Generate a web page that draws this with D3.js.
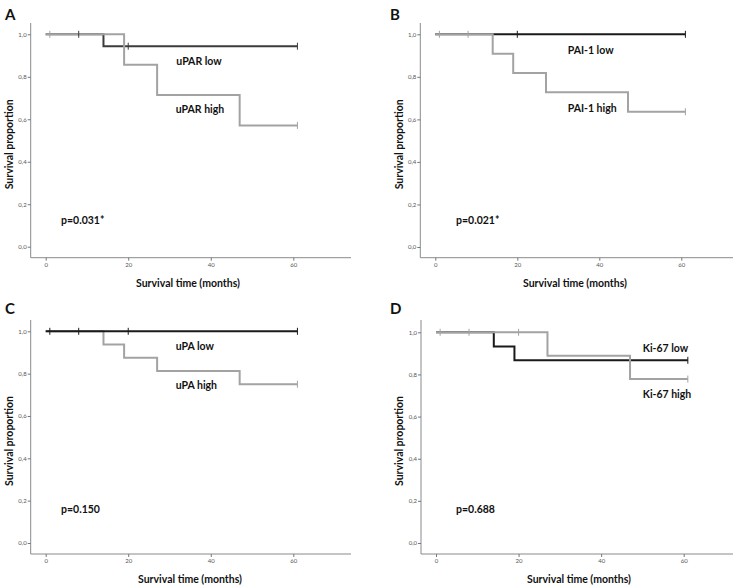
<!DOCTYPE html>
<html><head><meta charset="utf-8">
<script src="https://cdn.jsdelivr.net/npm/d3@7"></script>
<style>body{margin:0;background:#fff}svg{display:block}</style>
</head><body>
<svg id="chart" width="745" height="588"></svg>
<script>
// ---- data ----
const panelLetters = ["A", "B", "C", "D"];
const lowLabels = ["uPAR low", "PAI-1 low", "uPA low", "Ki-67 low"];
const highLabels = ["uPAR high", "PAI-1 high", "uPA high", "Ki-67 high"];
const pLabels = ["p=0.031*", "p=0.021*", "p=0.150", "p=0.688"];
const xTicks = [0, 20, 40, 60];
const yTicks = [0, 0.2, 0.4, 0.6, 0.8, 1.0];
const yTickLabels = ["0,0", "0,2", "0,4", "0,6", "0,8", "1,0"];
const followUpEnd = 61;
// step points: [time, survival from that time on]
const lowSteps = [
  [[0, 1], [14, 0.944]],
  [[0, 1]],
  [[0, 1]],
  [[0, 1], [14, 0.933], [19, 0.867]]
];
const highSteps = [
  [[0, 1], [19, 0.857], [27, 0.714], [47, 0.571]],
  [[0, 1], [14, 0.909], [19, 0.818], [27, 0.727], [47, 0.636]],
  [[0, 1], [14, 0.9375], [19, 0.875], [27, 0.8125], [47, 0.75]],
  [[0, 1], [27, 0.889], [47, 0.778]]
];
const lowCensor = [[8, 20, 61], [20, 61], [1, 8, 20, 61], [61]];
const highCensor = [[1, 61], [1, 8, 61], [61], [1, 8, 20, 61]];

// ---- layout (pixels) ----
const geo = [
  {axisX: 30.7, x0: 45.7, x60: 293.3, y0: 246.7, y1: 34.3, axisY: 257.7, top: 23, right: 351,
   letter: [5, 20], ylab: 9, xlab: [188, 287], low: [199, 65], high: [200, 113], p: [61, 224], lblAnchor: "middle"},
  {axisX: 420.3, x0: 435.3, x60: 681.3, y0: 247, y1: 34.3, axisY: 257.7, top: 23, right: 733,
   letter: [390, 20], ylab: 399, xlab: [575, 287], low: [567.7, 54], high: [567.7, 112], p: [456, 224], lblAnchor: "start"},
  {axisX: 30.7, x0: 45.7, x60: 293.3, y0: 543, y1: 331.3, axisY: 554, top: 320, right: 351,
   letter: [5, 314], ylab: 9, xlab: [190, 583], low: [175.7, 349.5], high: [175.7, 389], p: [61, 513], lblAnchor: "start"},
  {axisX: 421, x0: 436, x60: 683.7, y0: 543, y1: 332.3, axisY: 554, top: 320, right: 733,
   letter: [390, 314], ylab: 399, xlab: [579, 583], low: [642.7, 352], high: [642.7, 398], p: [456, 513], lblAnchor: "start"}
];
const darkColors = ["#3c3c3c", "#1a1a1a", "#1a1a1a", "#1a1a1a"];
const grayColor = "#a3a3a3";
const highOnTop = [true, true, false, true];
const FONT = "Lato, 'Open Sans', sans-serif";

const svg = d3.select("#chart");

function survAt(steps, t) {
  let s = steps[0][1];
  for (const [tt, v] of steps) if (t >= tt) s = v;
  return s;
}
function stepPoints(steps) {
  const pts = steps.map(d => [d[0], d[1]]);
  pts.push([followUpEnd, steps[steps.length - 1][1]]);
  return pts;
}

panelLetters.forEach((letter, i) => {
  const g = geo[i];
  const x = d3.scaleLinear().domain([0, 60]).range([g.x0, g.x60]);
  const y = d3.scaleLinear().domain([0, 1]).range([g.y0, g.y1]);
  const p = svg.append("g");

  p.append("path")
    .attr("d", `M${g.axisX},${g.top}V${g.axisY}H${g.right}`)
    .attr("fill", "none").attr("stroke", "#8a8a8a").attr("stroke-width", 1);

  const xa = p.append("g").attr("transform", `translate(0,${g.axisY})`)
    .call(d3.axisBottom(x).tickValues(xTicks).tickSize(3).tickPadding(2).tickFormat(d3.format("d")));
  xa.select(".domain").remove();
  const ya = p.append("g").attr("transform", `translate(${g.axisX},0)`)
    .call(d3.axisLeft(y).tickValues(yTicks).tickSize(3).tickPadding(1).tickFormat((d, k) => yTickLabels[k]));
  ya.select(".domain").remove();
  [xa, ya].forEach(a => {
    a.selectAll("line").attr("stroke", "#777");
    a.selectAll("text").attr("fill", "#555").attr("font-size", 6).attr("font-family", FONT);
  });

  const line = d3.line().x(d => x(d[0])).y(d => y(d[1])).curve(d3.curveStepAfter);
  const series = [
    {steps: lowSteps[i], cens: lowCensor[i], color: darkColors[i]},
    {steps: highSteps[i], cens: highCensor[i], color: grayColor}
  ];
  const order = highOnTop[i] ? [series[0], series[1]] : [series[1], series[0]];
  order.forEach(s => {
    p.append("path").attr("d", line(stepPoints(s.steps)))
      .attr("fill", "none").attr("stroke", s.color).attr("stroke-width", 2);
  });
  series.forEach(s => {
    p.selectAll(null).data(s.cens).enter().append("line")
      .attr("x1", d => x(d)).attr("x2", d => x(d))
      .attr("y1", d => y(survAt(s.steps, d)) - 3.5)
      .attr("y2", d => y(survAt(s.steps, d)) + 3.5)
      .attr("stroke", s.color).attr("stroke-width", 1);
  });

  p.append("text").attr("x", g.letter[0]).attr("y", g.letter[1]).text(letter)
    .attr("font-family", FONT).attr("font-weight", "bold").attr("font-size", 15).attr("fill", "#111");
  p.append("text").attr("transform", `translate(${g.ylab},${(g.top + g.axisY) / 2 + 4}) rotate(-90)`)
    .attr("text-anchor", "middle").attr("dy", "0.35em").text("Survival proportion")
    .attr("font-family", FONT).attr("font-weight", "bold").attr("font-size", 10.5).attr("fill", "#111");
  p.append("text").attr("x", g.xlab[0]).attr("y", g.xlab[1]).attr("text-anchor", "middle")
    .text("Survival time (months)")
    .attr("font-family", FONT).attr("font-weight", "bold").attr("font-size", 10.5).attr("fill", "#111");
  [[lowLabels[i], g.low], [highLabels[i], g.high], [pLabels[i], g.p]].forEach(([t, pos], k) => {
    p.append("text").attr("x", pos[0]).attr("y", pos[1])
      .attr("text-anchor", k < 2 ? g.lblAnchor : "start").text(t)
      .attr("font-family", FONT).attr("font-weight", "bold").attr("font-size", 10.5).attr("fill", "#111");
  });
});
</script>
</body></html>
